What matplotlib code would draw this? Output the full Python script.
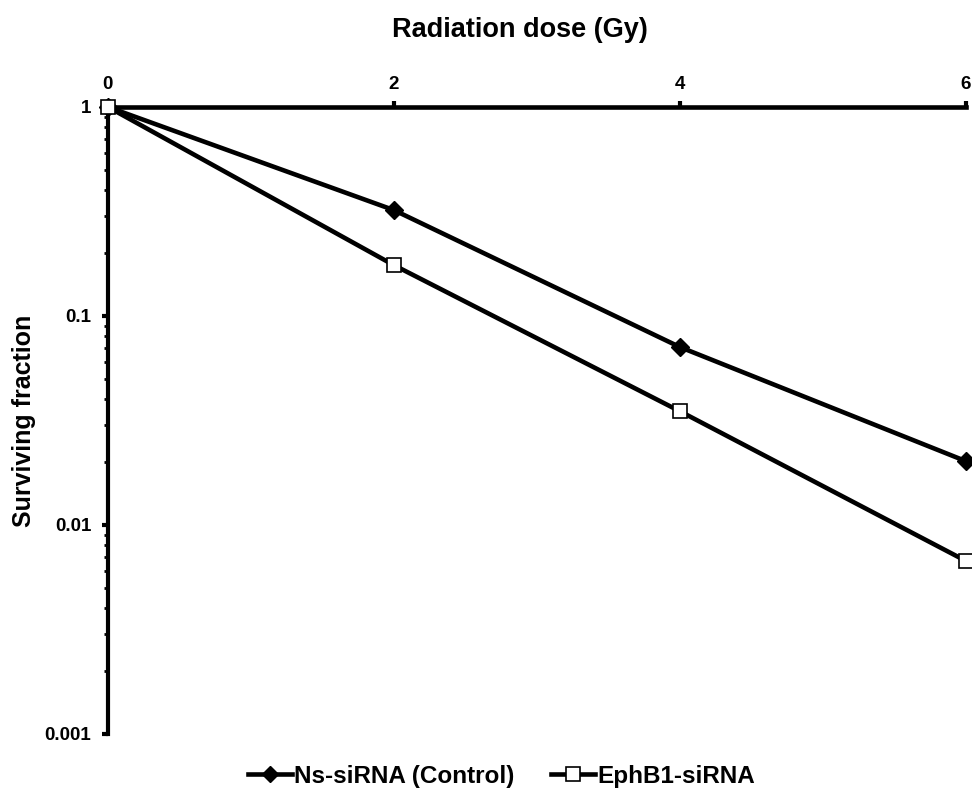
import matplotlib
matplotlib.use('Agg')
import matplotlib.pyplot as plt
from matplotlib.ticker import FixedLocator, LogLocator, NullFormatter

plt.rcParams['font.family'] = ['Liberation Sans', 'DejaVu Sans']
plt.rcParams['font.weight'] = 'bold'

# data
dose = [0, 2, 4, 6]
ns_sirna = [1.0, 0.321, 0.071, 0.0202]
ephb1_sirna = [1.0, 0.175, 0.035, 0.00673]
xticks = [0, 2, 4, 6]
yticks = [0.001, 0.01, 0.1, 1]
ytick_labels = ['0.001', '0.01', '0.1', '1']

fig = plt.figure(figsize=(9.72, 7.90), dpi=100)
ax = fig.add_axes([0.111, 0.0709, 0.8827, 0.7937])

ax.plot(dose, ns_sirna, color='black', lw=3.3, marker='D', ms=9,
        mfc='black', mec='black', label='Ns-siRNA (Control)', clip_on=False, zorder=3)
ax.plot(dose, ephb1_sirna, color='black', lw=3.3, marker='s', ms=10.5,
        mfc='white', mec='black', mew=1.2, label='EphB1-siRNA', clip_on=False, zorder=4)

ax.set_yscale('log')
ax.set_ylim(0.001, 1)
ax.set_xlim(0, 6)

ax.spines['bottom'].set_visible(False)
ax.spines['right'].set_visible(False)
ax.spines['top'].set_linewidth(3.3)
ax.spines['left'].set_linewidth(3.0)

ax.xaxis.set_ticks_position('top')
ax.xaxis.set_label_position('top')
ax.xaxis.set_major_locator(FixedLocator(xticks))
ax.tick_params(axis='x', direction='out', length=4, width=3, labelsize=13.5, pad=6)

ax.yaxis.set_major_locator(FixedLocator(yticks))
ax.set_yticklabels(ytick_labels)
ax.yaxis.set_minor_locator(LogLocator(base=10, subs=range(2, 10)))
ax.yaxis.set_minor_formatter(NullFormatter())
ax.tick_params(axis='y', which='major', direction='out', length=4, width=3, labelsize=13.5, pad=8)
ax.tick_params(axis='y', which='minor', direction='out', length=3, width=2)

ax.set_xlabel('Radiation dose (Gy)', fontsize=19.5, fontweight='bold', labelpad=28)
ax.xaxis.label.set_x(0.48)
ax.set_ylabel('Surviving fraction', fontsize=18, fontweight='bold', labelpad=6)

leg = ax.legend(loc='upper center', bbox_to_anchor=(0.459, -0.014), ncol=2, frameon=False,
                fontsize=17.5, handlelength=1.8, columnspacing=1.5, handletextpad=0.1,
                markerscale=0.9)
for t in leg.get_texts():
    t.set_fontweight('bold')

fig.savefig('out.png', dpi=100)
